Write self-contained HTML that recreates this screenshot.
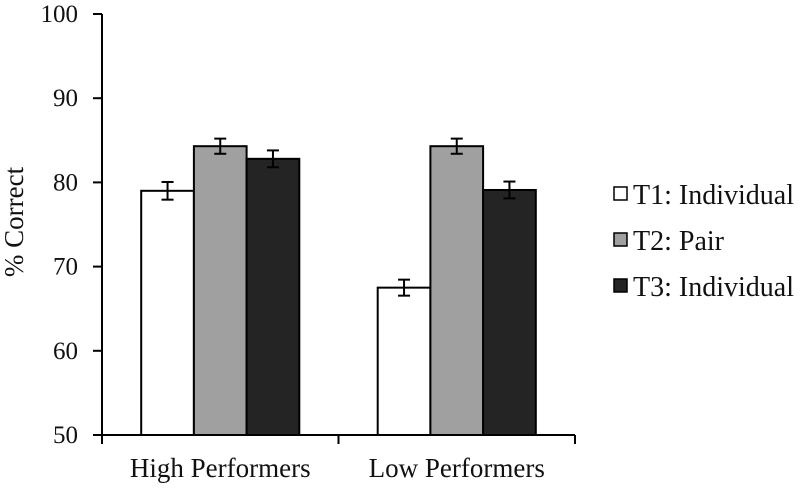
<!DOCTYPE html>
<html><head><meta charset="utf-8"><style>
body{margin:0;background:#fff}
svg text{font-family:"Liberation Serif",serif;fill:#111}
</style></head><body>
<svg id="chart" width="800" height="485">
<g id="axes"></g><g id="bars"></g><g id="legend"></g>
</svg>
<script>
const categories=["High Performers","Low Performers"];
const seriesNames=["T1: Individual","T2: Pair","T3: Individual"];
const seriesColors=["#ffffff","#a0a0a0","#242424"];
const t1Values=[79.0,67.5];
const t2Values=[84.3,84.3];
const t3Values=[82.8,79.1];
const t1Err=[1.05,0.95];
const t2Err=[0.9,0.9];
const t3Err=[1.0,1.0];
const yTicks=[50,60,70,80,90,100];
const series=[t1Values,t2Values,t3Values];
const errs=[t1Err,t2Err,t3Err];
const NS="http://www.w3.org/2000/svg";
const x0=102,x1=575,yBase=435,yTop=14;
function y(v){return yBase-(v-50)/(100-50)*(yBase-yTop);}
const catW=(x1-x0)/categories.length;
const barW=52.7;
function mk(tag,attrs,parent){const e=document.createElementNS(NS,tag);for(const k in attrs)e.setAttribute(k,attrs[k]);parent.appendChild(e);return e;}
const axes=document.getElementById('axes'),bars=document.getElementById('bars'),legend=document.getElementById('legend');
let a=mk('line',{x1:x0,y1:yTop,x2:x0,y2:yBase,stroke:'#000','stroke-width':2},axes);


a=mk('line',{x1:x0-1,y1:yBase,x2:x1,y2:yBase,stroke:'#000','stroke-width':2},axes);


yTicks.forEach(t=>{
 mk('line',{x1:x0-9,y1:y(t),x2:x0,y2:y(t),stroke:'#000','stroke-width':2},axes);
 const tx=mk('text',{x:78,y:y(t)+8,'text-anchor':'end','font-size':25},axes);
 tx.textContent=t;
 
 
});
for(let i=0;i<=categories.length;i++){
 mk('line',{x1:x0+i*catW,y1:yBase,x2:x0+i*catW,y2:yBase+9,stroke:'#000','stroke-width':2},axes);
}
categories.forEach((c,i)=>{
 const tx=mk('text',{x:x0+(i+0.5)*catW,y:yBase+42,'text-anchor':'middle','font-size':27},axes);
 tx.textContent=c;
 
 
 series.forEach((s,j)=>{
  const bx=x0+(i+0.5)*catW-1.5*barW+j*barW;
  const r=mk('rect',{x:bx,y:y(s[i]),width:barW,height:yBase-y(s[i]),fill:seriesColors[j],stroke:'#000','stroke-width':2},bars);
  
  
  const cx=bx+barW/2,e=errs[j][i];
  const g=mk('g',{stroke:'#000','stroke-width':2},bars);
  
  
  mk('line',{x1:cx,y1:y(s[i]+e),x2:cx,y2:y(s[i]-e)},g);
  mk('line',{x1:cx-6,y1:y(s[i]+e),x2:cx+6,y2:y(s[i]+e)},g);
  mk('line',{x1:cx-6,y1:y(s[i]-e),x2:cx+6,y2:y(s[i]-e)},g);
 });
});
const yl=mk('text',{x:0,y:0,transform:'translate(23,222) rotate(-90)','text-anchor':'middle','font-size':27},axes);
yl.textContent='% Correct';


seriesNames.forEach((n,j)=>{
 const g=mk('g',{},legend);
 
 
 const ly=194+j*46;
 mk('rect',{x:614,y:ly-7,width:13,height:13,fill:seriesColors[j],stroke:'#000','stroke-width':1.5},g);
 const t=mk('text',{x:633,y:ly+10,'font-size':28},g);
 t.textContent=n;
});
</script>
</body></html>
